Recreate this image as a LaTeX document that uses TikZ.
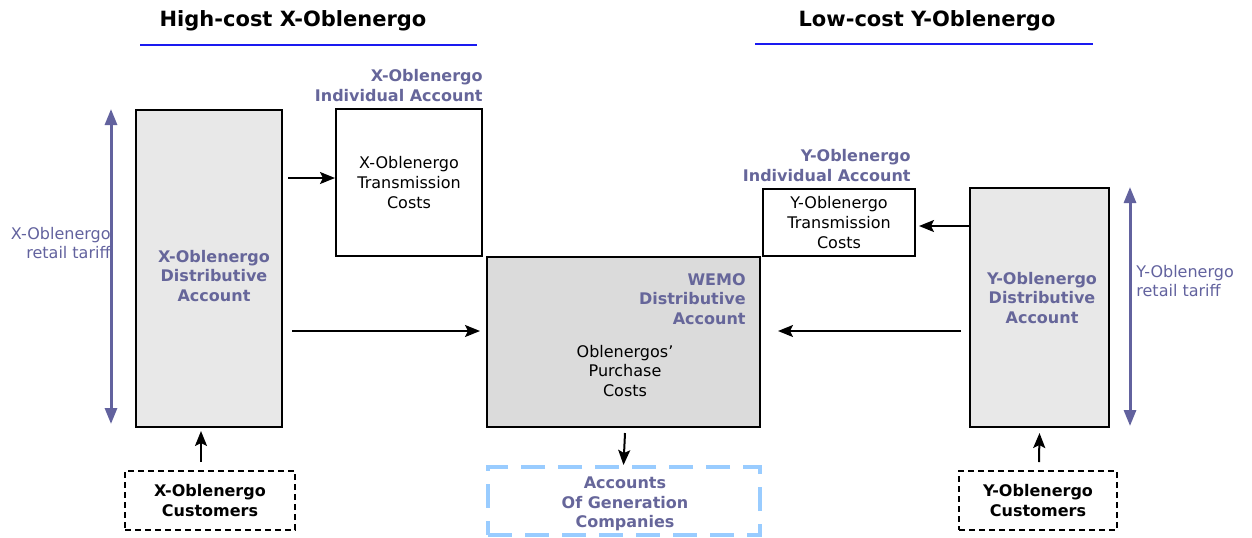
\documentclass[tikz,border=0pt]{standalone}
\usepackage{fontspec}
\setmainfont{DejaVu Sans}
\usepackage{tikz}
\usetikzlibrary{arrows.meta,positioning}
\definecolor{acctpurple}{HTML}{66669A}
\definecolor{tariffpurple}{HTML}{62629E}
\definecolor{titleblue}{HTML}{1A1AF0}
\definecolor{genblue}{HTML}{99CCFF}

\begin{document}
\begin{tikzpicture}[x=0.5pt, y=-0.5pt,
  every node/.style={font=\fontsize{8}{9.8}\selectfont, align=center, inner sep=0pt},
  account/.style={draw, line width=1pt, fill=gray!18},
  costbox/.style={draw, line width=1pt, fill=white},
  acctname/.style={text=acctpurple, font=\fontsize{8}{9.8}\selectfont\bfseries},
  custbox/.style={draw, line width=1pt, dash pattern=on 3pt off 2pt, font=\fontsize{8}{9.8}\selectfont\bfseries},
  genbox/.style={draw=genblue, line width=2pt, dash pattern=on 12pt off 6.5pt, text=acctpurple, font=\fontsize{8}{9.8}\selectfont\bfseries},
  flow/.style={-{Stealth[length=7.5pt,width=6pt,inset=1.5pt]}, line width=1pt},
  tariff/.style={{Triangle[length=8pt,width=6pt]}-{Triangle[length=8pt,width=6pt]}, draw=tariffpurple, line width=1.5pt},
  title/.style={font=\fontsize{10.5}{12}\selectfont\bfseries},
  titleline/.style={draw=titleblue, line width=1pt}]
\useasboundingbox (0,0) rectangle (1252,537);

% headings
\node[title] (xtitle) at (293,21) {High-cost X-Oblenergo};
\node[title] (ytitle) at (927,21) {Low-cost Y-Oblenergo};
\draw[titleline] (140,45) -- (477,45);
\draw[titleline] (755,44) -- (1093,44);

% accounts
\node[account, minimum width=73pt, minimum height=158.5pt] (Xdist) at (209,268.5) {};
\node[costbox, minimum width=73pt, minimum height=73.5pt] (Xtrans) at (409,182.5) {X-Oblenergo\\Transmission\\Costs};
\node[account, fill=gray!28, minimum width=136.5pt, minimum height=85pt] (WEMO) at (623.5,342) {};
\node[genbox, minimum width=136pt, minimum height=34pt] (Gen) at (624,501) {};
\node[costbox, minimum width=76pt, minimum height=33.5pt] (Ytrans) at (839,222.5) {Y-Oblenergo\\Transmission\\Costs};
\node[account, minimum width=69.5pt, minimum height=119.5pt] (Ydist) at (1039.5,307.5) {};
\node[custbox, minimum width=85pt, minimum height=29.5pt] (Xcust) at (210,500.5) {X-Oblenergo\\Customers};
\node[custbox, minimum width=79pt, minimum height=29.5pt] (Ycust) at (1038,500.5) {Y-Oblenergo\\Customers};

% labels
\node[acctname] (XdistLbl) at (214,276) {X-Oblenergo\\Distributive\\Account};
\node[acctname] (YdistLbl) at (1042,298) {Y-Oblenergo\\Distributive\\Account};
\node[acctname] (GenLbl) at (625,504) {Accounts\\Of Generation\\Companies};
\node[acctname, align=right, anchor=south east] (XtransLbl) at ([yshift=3pt]Xtrans.north east) {X-Oblenergo\\Individual Account};
\node[acctname, align=right, anchor=south east] (YtransLbl) at ([xshift=-2.5pt,yshift=3pt]Ytrans.north east) {Y-Oblenergo\\Individual Account};
\node[acctname, align=right, anchor=north east] (WEMOLbl) at ([xshift=-7.5pt,yshift=-8.5pt]WEMO.north east) {WEMO\\Distributive\\Account};
\node (WEMOCost) at (625,371) {Oblenergos'\\Purchase\\Costs};

% retail tariffs
\coordinate (XtarTop) at ([xshift=-12pt]Xdist.north west);
\coordinate (XtarBot) at ([xshift=-12pt,yshift=2pt]Xdist.south west);
\coordinate (YtarTop) at ([xshift=10pt]Ydist.north east);
\coordinate (YtarBot) at ([xshift=10pt,yshift=1pt]Ydist.south east);
\draw[tariff] (XtarTop) -- (XtarBot);
\draw[tariff] (YtarTop) -- (YtarBot);
\node[text=tariffpurple, align=right, anchor=east] (XtarLbl) at (111,243) {X-Oblenergo\\retail tariff};
\node[text=tariffpurple, align=left, anchor=west] (YtarLbl) at (1136,281) {Y-Oblenergo\\retail tariff};

% flows
\draw[flow] ([xshift=2.5pt]Xdist.east |- 0,178) -- (Xtrans.west |- 0,178);
\draw[flow] ([xshift=4.5pt,yshift=5.5pt]Xdist.east |- WEMO.west) -- ([xshift=-3pt,yshift=5.5pt]WEMO.west);
\draw[flow] ([xshift=-4pt,yshift=5.5pt]Ydist.west |- WEMO.east) -- ([xshift=8.5pt,yshift=5.5pt]WEMO.east);
\draw[flow] ([yshift=-1.75pt]Ydist.west |- Ytrans.east) -- ([xshift=1.5pt,yshift=-1.75pt]Ytrans.east);
\draw[flow] ([xshift=0.75pt,yshift=-2.5pt]WEMO.south) -- ([xshift=-0.25pt]Gen.north);
\draw[flow] ([xshift=-4.5pt,yshift=4pt]Xcust.north) -- ([xshift=-4pt,yshift=-1.5pt]Xdist.south);
\draw[flow] ([xshift=0.5pt,yshift=4pt]Ycust.north) -- ([yshift=-2.5pt]Ydist.south);
\end{tikzpicture}
\end{document}
